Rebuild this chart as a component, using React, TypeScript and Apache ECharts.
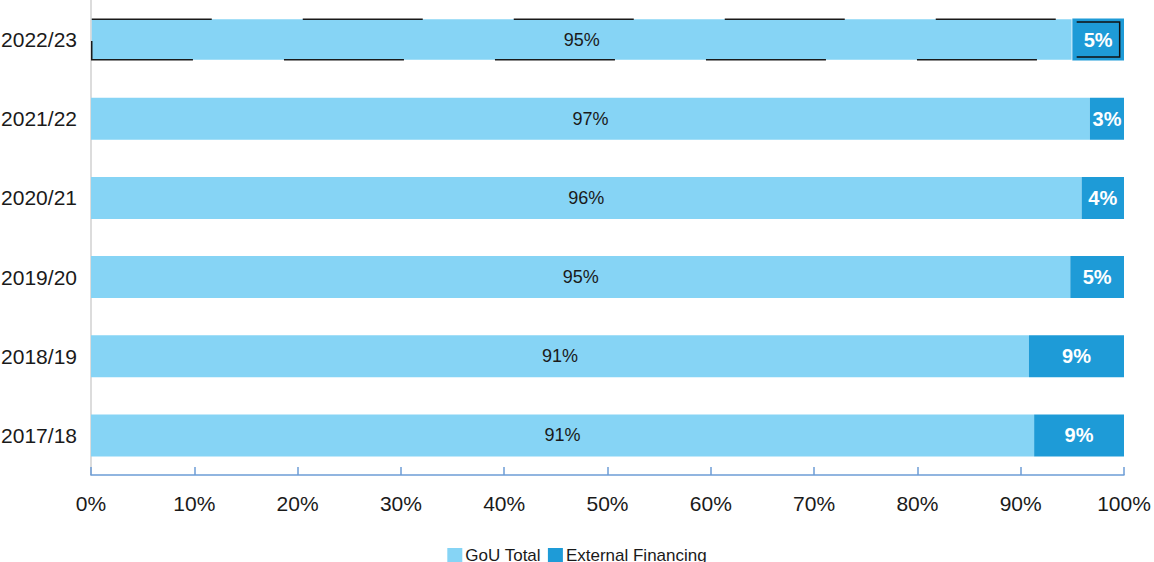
import React, { useEffect, useRef } from "react";
import * as echarts from "echarts";

const categories = ["2017/18", "2018/19", "2019/20", "2020/21", "2021/22", "2022/23"];
const gouTotal = [91.3, 90.8, 94.8, 95.9, 96.7, 95.0];
const externalFinancing = [8.7, 9.2, 5.2, 4.1, 3.3, 5.0];
const xTicks = { min: 0, max: 100, interval: 10 };

const FONT = "'Liberation Sans Narrow', 'Liberation Sans', Arial, sans-serif";
const LIGHT = "#86D4F5";
const DARK = "#1E9BD7";

export default function App() {
  const ref = useRef<HTMLDivElement>(null);
  useEffect(() => {
    const chart = echarts.init(ref.current!, null, { renderer: "svg" });
    const last = categories.length - 1;
    chart.setOption({
      animation: false,
      textStyle: { fontFamily: FONT },
      grid: { left: 91, right: 30, top: 0, bottom: 87, containLabel: false, outerBoundsMode: "none" },
      legend: {
        data: ["GoU Total", "External Financing"],
        left: "center",
        top: 547,
        padding: 0,
        icon: "rect",
        itemWidth: 15,
        itemHeight: 15,
        itemGap: 7,
        textStyle: { fontFamily: FONT, fontSize: 17, color: "#1a1a1a", padding: [0, 0, 0, -2] },
      },
      xAxis: {
        type: "value",
        min: xTicks.min,
        max: xTicks.max,
        interval: xTicks.interval,
        axisLine: { show: true, lineStyle: { color: "#6C9DD6", width: 1.5 } },
        axisTick: { show: true, inside: true, length: 8, lineStyle: { color: "#6C9DD6", width: 1.5 } },
        splitLine: { show: false },
        axisLabel: { formatter: "{value}%", fontFamily: FONT, fontSize: 21, color: "#1a1a1a", margin: 18 },
      },
      yAxis: {
        type: "category",
        data: categories,
        axisLine: { show: true, lineStyle: { color: "#d0d0d0", width: 1.5 } },
        axisTick: { show: false },
        axisLabel: { fontFamily: FONT, fontSize: 21, color: "#1a1a1a", margin: 14 },
      },
      series: [
        {
          name: "GoU Total",
          type: "bar",
          stack: "total",
          barWidth: 42,
          itemStyle: { color: LIGHT },
          label: {
            show: true,
            position: "inside",
            fontFamily: FONT,
            fontSize: 18,
            color: "#1a1a1a",
            formatter: (p: any) => Math.round(p.value) + "%",
          },
          data: gouTotal.map((v, i) =>
            i === last
              ? { value: v, itemStyle: { color: LIGHT, borderColor: "#1a1a1a", borderWidth: 1.5, borderType: [120, 91] } }
              : v
          ),
        },
        {
          name: "External Financing",
          type: "bar",
          stack: "total",
          barWidth: 42,
          itemStyle: { color: DARK },
          label: {
            show: true,
            position: "inside",
            fontFamily: FONT,
            fontSize: 20,
            fontWeight: "bold",
            color: "#ffffff",
            formatter: (p: any) => Math.round(p.value) + "%",
          },
          data: externalFinancing.map((v, i) =>
            i === last
              ? {
                  value: v,
                  label: {
                    width: 43,
                    height: 35,
                    lineHeight: 35,
                    align: "center",
                    borderColor: "#111",
                    borderWidth: 1.5,
                    borderType: [121, 100],
                  },
                }
              : v
          ),
        },
      ],
    });
    return () => chart.dispose();
  }, []);
  return (
    <div
      ref={ref}
      style={{ position: "fixed", left: 0, top: 0, width: 1154, height: 562, background: "#fff" }}
    />
  );
}
